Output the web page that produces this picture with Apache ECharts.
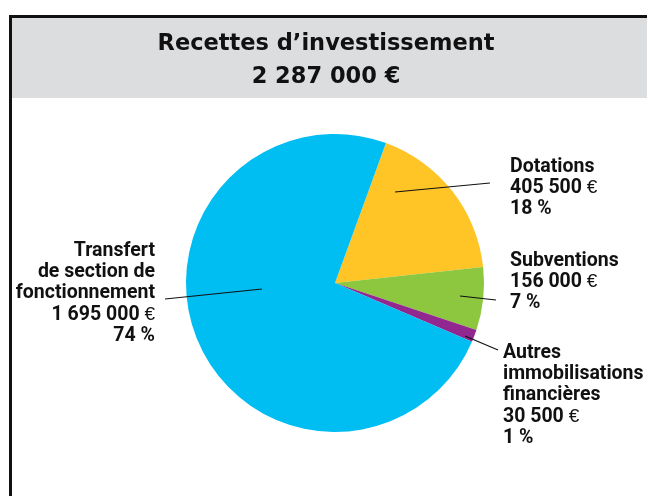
<!DOCTYPE html>
<html>
<head>
<meta charset="utf-8">
<script src="https://cdn.jsdelivr.net/npm/echarts@6/dist/echarts.min.js"></script>
<style>
html,body{margin:0;padding:0;background:#fff;}
#chart{width:647px;height:496px;}
</style>
</head>
<body>
<div id="chart"></div>
<script>
// ---- data ----
var titleLines = ['Recettes d\u2019investissement', '2 287 000 \u20ac'];
var categories = ['Dotations', 'Subventions', 'Autres\nimmobilisations\nfinanci\u00e8res', 'Transfert\nde section de\nfonctionnement'];
var values = [405500, 156000, 30500, 1695000];
var colors = ['#FFC425', '#8DC63F', '#92278F', '#00BDF2'];

// ---- layout (label anchors and leader lines, pixels) ----
var labelPlace = [
  {x: 510, y: 156, align: 'left',  line: [[395, 192], [490, 183]]},
  {x: 510, y: 250, align: 'left',  line: [[460, 296], [496, 300]]},
  {x: 503, y: 342, align: 'left',  line: [[465, 336], [498, 350]]},
  {x: 155, y: 240, align: 'right', line: [[262, 289], [165, 299]]}
];

var labelFont = 'Roboto, "DejaVu Sans Condensed", sans-serif';

function fmt(v) {
  return String(v).replace(/\B(?=(\d{3})+(?!\d))/g, ' ');
}

var chart = echarts.init(document.getElementById('chart'), null, {renderer: 'canvas'});

var pieData = categories.map(function (c, i) {
  return {name: c, value: values[i], itemStyle: {color: colors[i]}};
});
var labelData = categories.map(function (c, i) {
  return {name: c, value: values[i], label: {align: labelPlace[i].align}};
});

var common = {
  type: 'pie',
  center: [335, 283],
  radius: 149,
  startAngle: 70,
  clockwise: true,
  percentPrecision: 0,
  avoidLabelOverlap: false,
  emphasis: {disabled: true},
  silent: true
};

var option = {
  animation: false,
  graphic: [
    {type: 'rect', shape: {x: 12, y: 18, width: 635, height: 80}, style: {fill: '#DCDDDF'}, z: -10},
    {type: 'rect', shape: {x: 9, y: 15, width: 638, height: 3}, style: {fill: '#111'}, z: -5},
    {type: 'rect', shape: {x: 9, y: 15, width: 3, height: 481}, style: {fill: '#111'}, z: -5},
    {type: 'text', x: 326, y: 28, style: {
      text: titleLines.join('\n'), align: 'center', verticalAlign: 'top',
      font: 'bold 22.5px "DejaVu Sans", sans-serif', lineHeight: 33, fill: '#111'
    }}
  ],
  series: [
    Object.assign({}, common, {
      z: 2,
      itemStyle: {borderWidth: 0},
      label: {show: false},
      labelLine: {show: false},
      data: pieData
    }),
    Object.assign({}, common, {
      z: 5,
      itemStyle: {color: 'rgba(0,0,0,0)', borderWidth: 0},
      label: {
        show: true,
        position: 'outside',
        color: '#111',
        fontFamily: labelFont,
        fontWeight: 'bold',
        fontSize: 19.5,
        lineHeight: 21.4,
        formatter: function (p) {
          return p.name + '\n' + fmt(p.value) + ' {e|\u20ac}\n' + p.percent + ' %';
        },
        rich: {
          e: {fontFamily: '"Liberation Sans", sans-serif', fontWeight: 'normal', fontSize: 19, lineHeight: 21.4, color: '#111'}
        }
      },
      labelLine: {show: true, lineStyle: {color: '#111', width: 1.2}},
      labelLayout: function (p) {
        var lp = labelPlace[p.dataIndex];
        var a = lp.line[0], b = lp.line[1];
        return {
          x: lp.x,
          y: lp.y,
          align: lp.align,
          verticalAlign: 'top',
          labelLinePoints: [a, [(a[0] + b[0]) / 2, (a[1] + b[1]) / 2], b]
        };
      },
      data: labelData
    })
  ]
};
chart.setOption(option);
</script>
</body>
</html>
